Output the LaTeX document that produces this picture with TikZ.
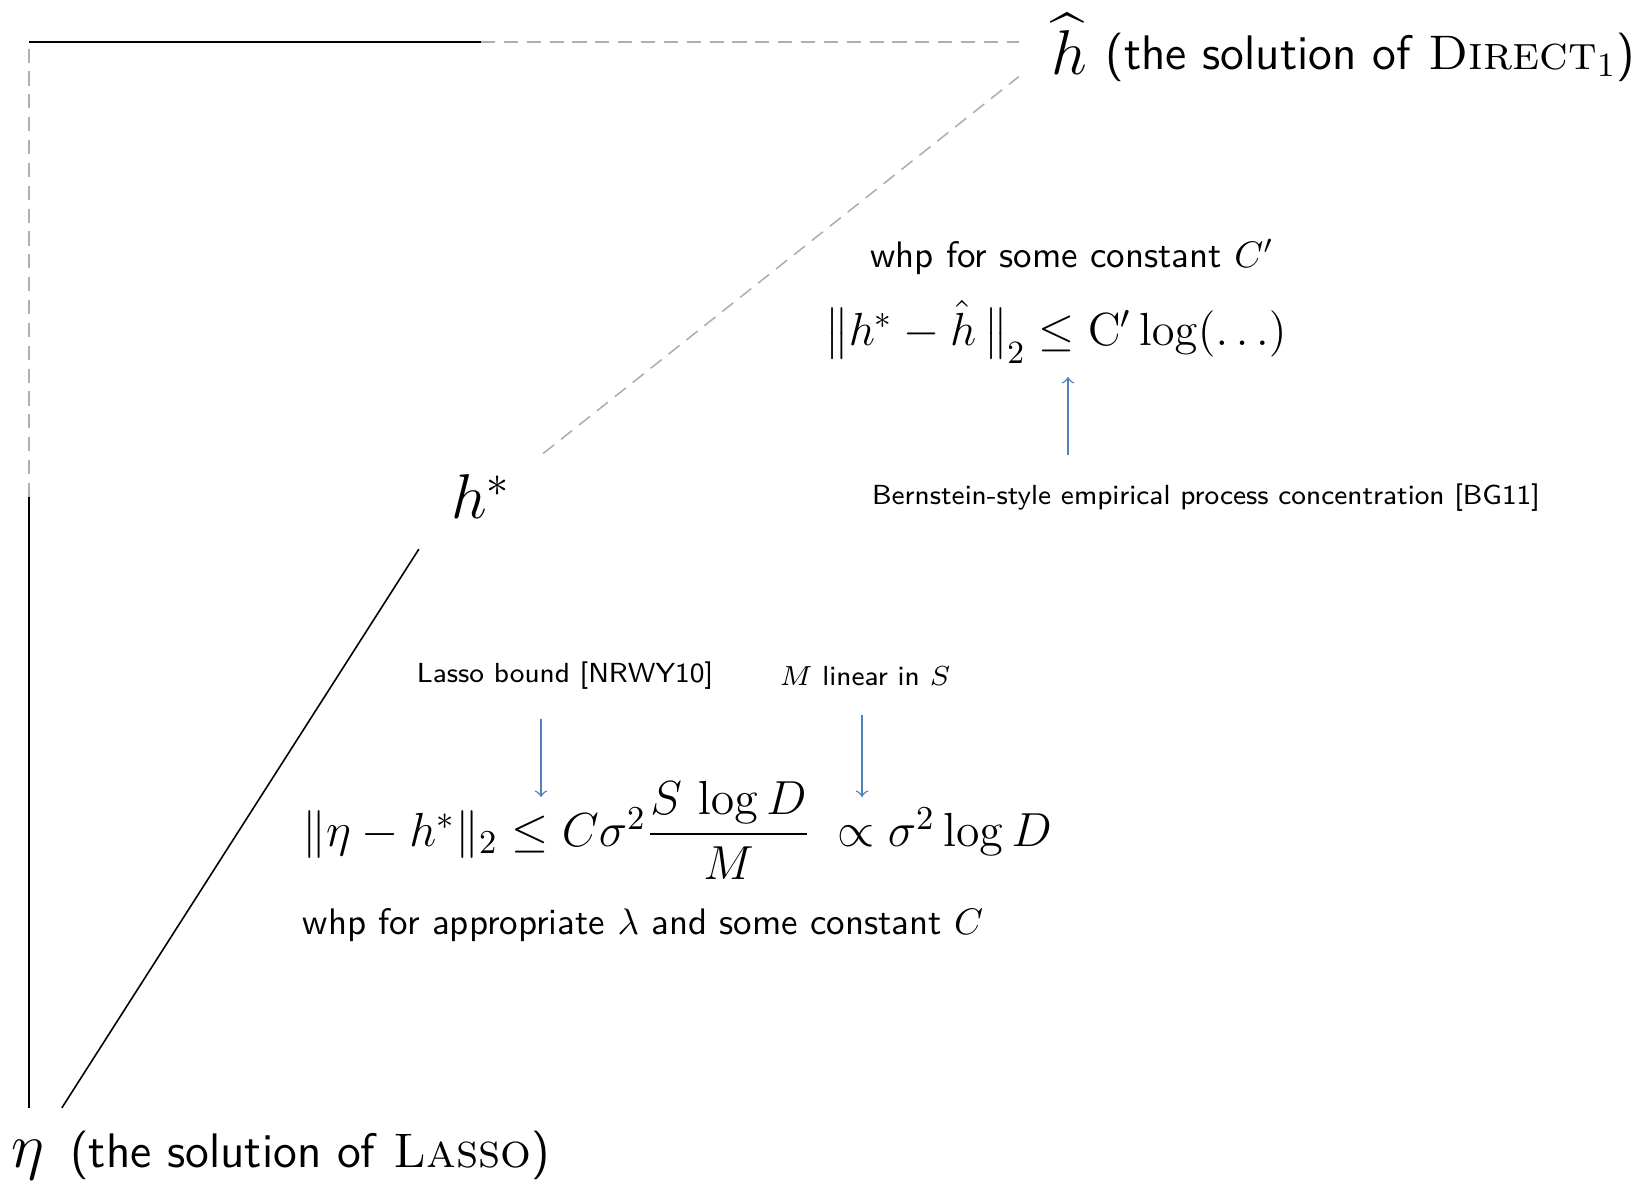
\RequirePackage{fix-cm}
\documentclass[tikz,border=0pt]{standalone}
\usepackage{amsmath}
\usetikzlibrary{arrows,positioning}
\definecolor{citeblue}{RGB}{79,129,189}
\definecolor{guessgray}{RGB}{175,175,175}

\begin{document}
\begin{tikzpicture}[x=0.01cm,y=-0.01cm,
  bound/.style={black,line width=0.45pt},
  guess/.style={guessgray,line width=0.45pt,dash pattern=on 4pt off 2.5pt},
  cite/.style={citeblue,line width=0.4pt,->},
  point/.style={inner sep=9pt,font=\fontsize{18}{20}\selectfont},
  caption/.style={inner sep=0pt,font=\sffamily\fontsize{13.8}{16}\selectfont},
  remark/.style={inner sep=0pt,font=\sffamily\fontsize{10.5}{12}\selectfont},
  note/.style={inner sep=8pt,font=\sffamily\fontsize{7.85}{10}\selectfont},
  formula/.style={inner sep=0pt,font=\fontsize{13.2}{16}\selectfont}]
\useasboundingbox (0,0) rectangle (1644,1185);

% the three estimates
\node [point] (eta) at (28,1160) {$\eta$};
\node [point] (hstar) at (481,497) {$h^*$};
\node [point] (hhat) at (1069,44) {$\widehat{h}$};
\node [caption,anchor=base west] (etatext) at ([xshift=-2pt]eta.base east) {(the solution of \textrm{\textsc{Lasso}})};
\node [caption,anchor=base west] (hhattext) at ([xshift=-4pt,yshift=1.5pt]hhat.base east) {(the solution of \textrm{\textsc{Direct}}$_1$)};

% paths between them
\coordinate (corner) at (29,42);
\draw [bound] (corner |- eta.north) -- (corner |- hstar.center);
\draw [guess] (corner |- hstar.center) -- (corner);
\draw [bound] (corner) -- (hstar.center |- corner);
\draw [guess] (hstar.center |- corner) -- (hhat.west |- corner);
\draw [bound] (eta.57) -- (hstar.220);
\draw [guess] (hstar.35) -- (hhat.213);

% estimation error
\node [remark] (whpC') at (1072,257) {whp for some constant $C'$};
\node [formula] (esterr) at (1056,332) {$\bigl\|h^*-\hat h\,\bigr\|_2\leq \mathrm{C}'\log(\ldots)$};
\node [note] (bernstein) at (1206,498) {Bernstein-style empirical process concentration [BG11]};
\coordinate (leq) at (1068,377);
\draw [cite] (bernstein.north -| leq) -- (leq);

% approximation error
\node [note] (lasso) at (565,676) {Lasso bound [NRWY10]};
\node [note] (linear) at (865,676) {$M$ linear in $S$};
\node [formula,font=\fontsize{13.6}{16}\selectfont] (approxerr) at (677,830) {$\|\eta-h^*\|_2\leq C\sigma^2\dfrac{S\,\log D}{M}\;\propto\sigma^2\log D$};
\node [remark] (whpC) at (643,925) {whp for appropriate $\lambda$ and some constant $C$};
\coordinate (lassohead) at (541,797);
\coordinate (linearhead) at (862,797);
\draw [cite] (lasso.south -| lassohead) -- (lassohead);
\draw [cite] (linear.south -| linearhead) -- (linearhead);
\end{tikzpicture}
\end{document}
